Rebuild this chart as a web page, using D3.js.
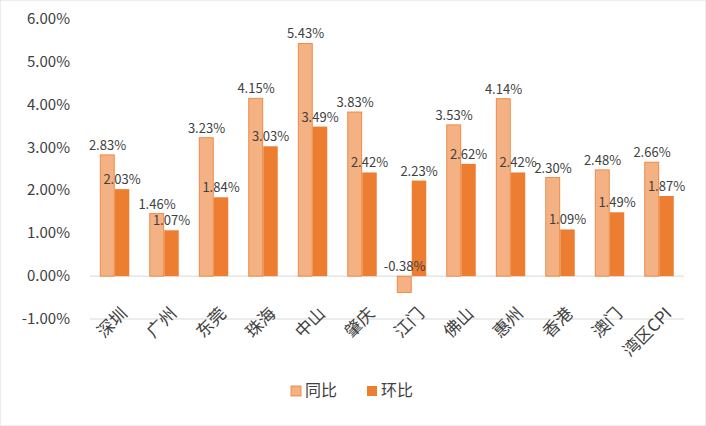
<!DOCTYPE html>
<html><head><meta charset="utf-8">
<script src="https://cdn.jsdelivr.net/npm/d3@7"></script>
<style>body{margin:0;background:#fff}text{font-family:"Noto Sans CJK SC","Open Sans",sans-serif;fill:#404040}</style>
</head><body><svg id="c" width="706" height="426"></svg>
<script>
const cities = ["深圳","广州","东莞","珠海","中山","肇庆","江门","佛山","惠州","香港","澳门","湾区CPI"];
const yoy = [2.83,1.46,3.23,4.15,5.43,3.83,-0.38,3.53,4.14,2.30,2.48,2.66];
const mom = [2.03,1.07,1.84,3.03,3.49,2.42,2.23,2.62,2.42,1.09,1.49,1.87];
const yTicks = [-1,0,1,2,3,4,5,6];

const svg = d3.select("#c");
svg.append("rect").attr("width",706).attr("height",426).attr("fill","#fff").attr("stroke","#d9d9d9");
const x = d3.scaleBand().domain(cities).range([90, 684]);
const y = d3.scaleLinear().domain([-1, 6]).range([319, 19]);
const bw = 14.5;
const fmt = d => d.toFixed(2) + "%";

svg.selectAll(".tick").data(yTicks).enter().append("text")
  .attr("x", 70).attr("y", d => y(d) + 5).attr("text-anchor", "end")
  .style("font-size", "15px").text(d => fmt(d));

[0, -1].forEach(v => svg.append("line").attr("x1", 90).attr("x2", 684)
  .attr("y1", y(v)).attr("y2", y(v)).attr("stroke", "#d9d9d9"));

const cx = c => x(c) + x.bandwidth() / 2;
svg.selectAll(".a").data(cities).enter().append("rect")
  .attr("x", c => cx(c) - bw).attr("width", bw - 0.5)
  .attr("y", (c, i) => y(Math.max(0, yoy[i])))
  .attr("height", (c, i) => Math.abs(y(yoy[i]) - y(0)))
  .attr("fill", "#F4B183").attr("stroke", "#ED7D31").attr("stroke-width", 0.8);
svg.selectAll(".b").data(cities).enter().append("rect")
  .attr("x", c => cx(c)).attr("width", bw)
  .attr("y", (c, i) => y(Math.max(0, mom[i])))
  .attr("height", (c, i) => Math.abs(y(mom[i]) - y(0)))
  .attr("fill", "#ED7D31");

svg.selectAll(".la").data(cities).enter().append("text")
  .attr("x", c => cx(c) - bw / 2).attr("y", (c, i) => y(Math.max(0, yoy[i])) - 5)
  .attr("text-anchor", "middle").style("font-size", "13px").text((c, i) => fmt(yoy[i]));
svg.selectAll(".lb").data(cities).enter().append("text")
  .attr("x", c => cx(c) + bw / 2).attr("y", (c, i) => y(mom[i]) - 5)
  .attr("text-anchor", "middle").style("font-size", "13px").text((c, i) => fmt(mom[i]));

svg.selectAll(".xl").data(cities).enter().append("text")
  .attr("transform", c => `translate(${cx(c) + 4},${y(-1) - 14}) rotate(-45)`)
  .attr("text-anchor", "end").attr("dy", "0.8em")
  .style("font-size", "17px").text(c => c);

const lg = svg.append("g").attr("transform", "translate(291,386)");
lg.append("rect").attr("width", 10).attr("height", 10)
  .attr("fill", "#F4B183").attr("stroke", "#ED7D31").attr("stroke-width", 0.8);
lg.append("text").attr("x", 14).attr("y", 10).style("font-size", "16px").text("同比");
lg.append("rect").attr("x", 76).attr("width", 10).attr("height", 10).attr("fill", "#ED7D31");
lg.append("text").attr("x", 90).attr("y", 10).style("font-size", "16px").text("环比");
</script></body></html>
